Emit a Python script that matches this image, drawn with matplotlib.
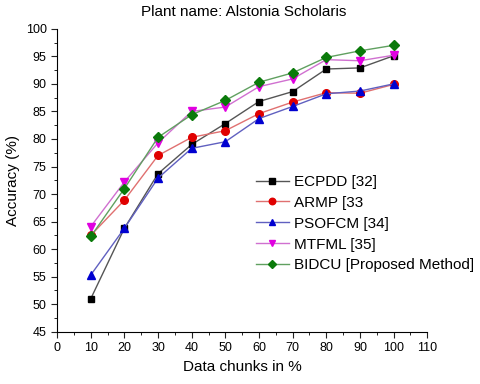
import matplotlib
matplotlib.use("Agg")
import matplotlib.pyplot as plt
from matplotlib.ticker import MultipleLocator

plt.rcParams['font.family'] = ['Liberation Sans', 'DejaVu Sans']

x = [10, 20, 30, 40, 50, 60, 70, 80, 90, 100]
ecpdd = [51.0, 63.8, 73.7, 79.0, 82.8, 86.8, 88.6, 92.7, 92.9, 95.1]
armp = [62.5, 68.9, 77.0, 80.3, 81.5, 84.6, 86.7, 88.4, 88.3, 89.9]
psofcm = [55.3, 63.8, 72.9, 78.3, 79.5, 83.7, 85.9, 88.2, 88.7, 90.0]
mtfml = [64.1, 72.2, 79.3, 85.0, 85.8, 89.5, 90.9, 94.4, 94.2, 95.2]
bidcu = [62.3, 71.0, 80.3, 84.4, 87.0, 90.3, 92.0, 94.8, 96.0, 97.0]

labels = ["ECPDD [32]", "ARMP [33", "PSOFCM [34]", "MTFML [35]", "BIDCU [Proposed Method]"]
series = [ecpdd, armp, psofcm, mtfml, bidcu]
mcolors = ["#000000", "#e00000", "#0000d0", "#e000e0", "#0a7a0a"]
lcolors = ["#555555", "#e07070", "#6060c0", "#d070d0", "#60a060"]
markers = ["s", "o", "^", "v", "D"]
msizes = [5, 5.5, 5.5, 5.5, 5]

fig = plt.figure(figsize=(4.8, 3.84), dpi=100)
ax = fig.add_axes([0.119, 0.136, 0.771, 0.789])

for ys, lab, mc, lc, mk, ms in zip(series, labels, mcolors, lcolors, markers, msizes):
    ax.plot(x, ys, color=lc, lw=1.0, marker=mk, markersize=ms,
            markerfacecolor=mc, markeredgecolor=mc, label=lab)

ax.set_xlim(0, 110)
ax.set_ylim(45, 100)
ax.xaxis.set_major_locator(MultipleLocator(10))
ax.xaxis.set_minor_locator(MultipleLocator(5))
ax.yaxis.set_major_locator(MultipleLocator(5))
ax.yaxis.set_minor_locator(MultipleLocator(2.5))
ax.spines['top'].set_visible(False)
ax.spines['right'].set_visible(False)
ax.tick_params(which='major', direction='out', length=4, labelsize=9, color='#222222')
ax.tick_params(which='minor', direction='out', length=2.5)

ax.set_xlabel("Data chunks in %", fontsize=11)
ax.set_ylabel("Accuracy (%)", fontsize=11)
fig.text(0.508, 0.968, "Plant name: Alstonia Scholaris", ha='center', va='center', fontsize=11)

ax.legend(loc='upper left', bbox_to_anchor=(0.52, 0.538), frameon=False, fontsize=11,
          handlelength=2.2, labelspacing=0.45, handletextpad=0.3, borderaxespad=0,
          markerscale=0.85)

fig.savefig("out.png", dpi=100)
